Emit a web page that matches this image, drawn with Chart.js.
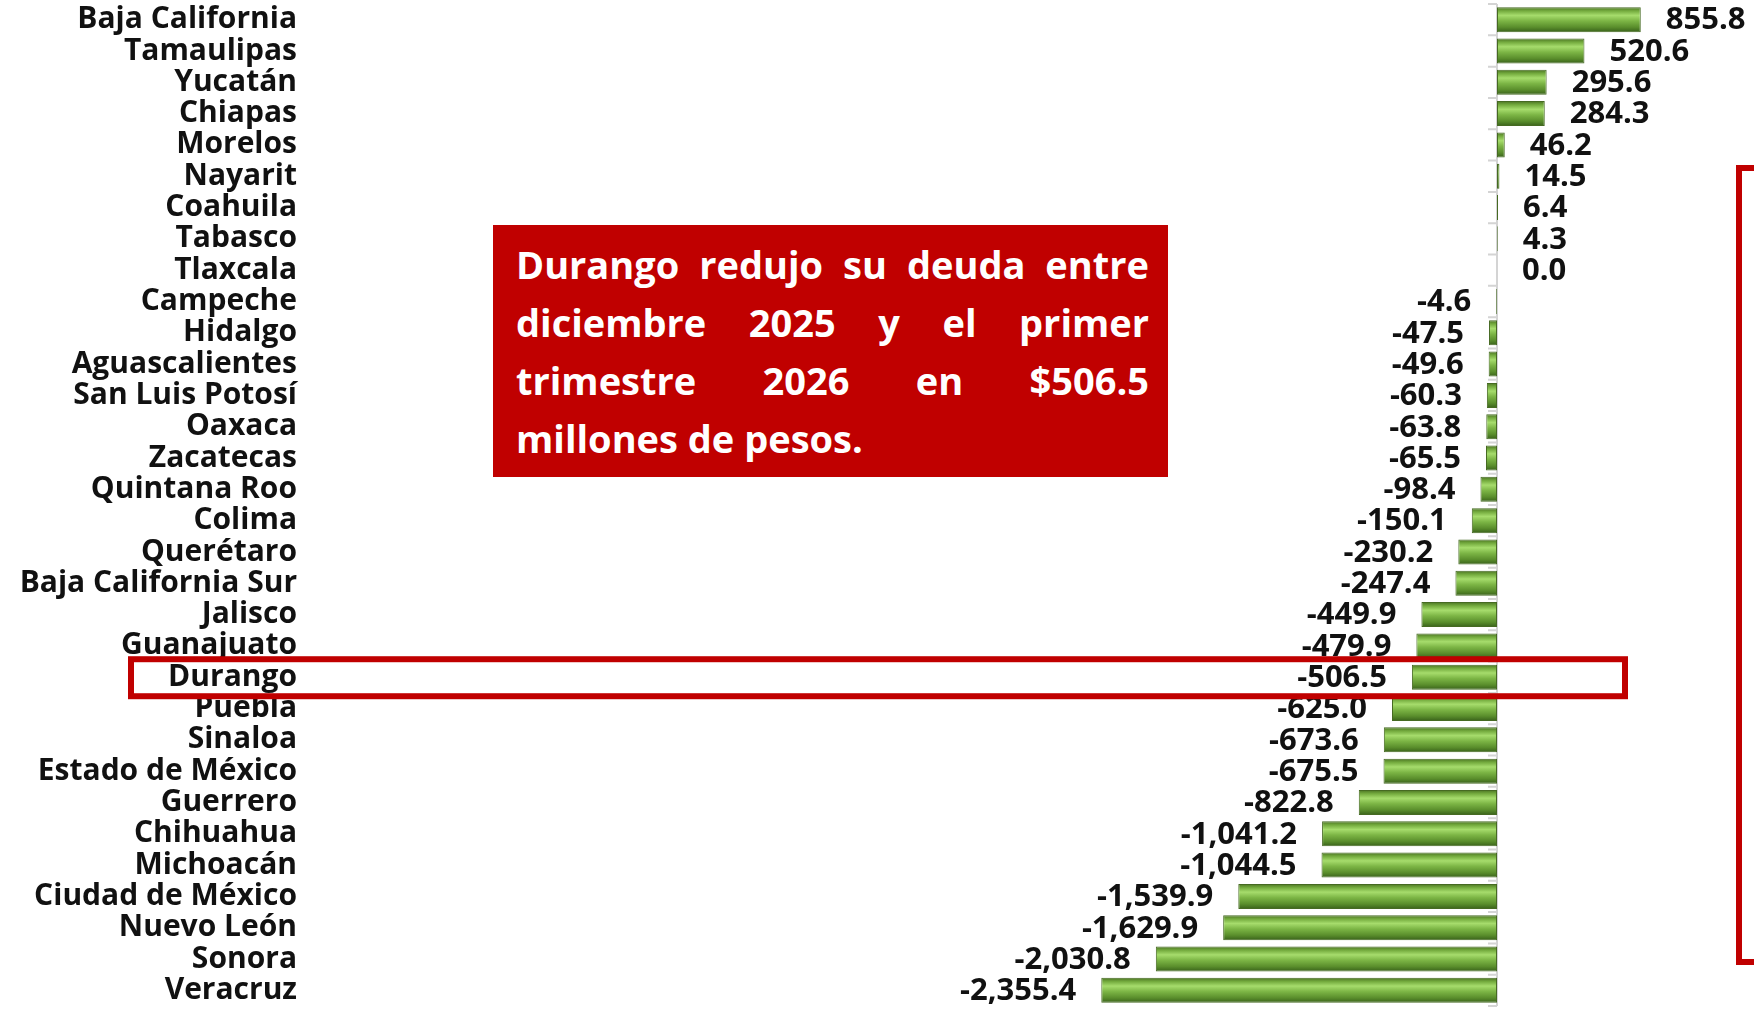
<!DOCTYPE html>
<html>
<head>
<meta charset="utf-8">
<script src="https://cdn.jsdelivr.net/npm/chart.js@4.4.1/dist/chart.umd.min.js"></script>
<style>
html, body { margin: 0; padding: 0; background: #fff; }
#wrap { position: relative; width: 1754px; height: 1010px; overflow: hidden; }
#note {
    position: absolute; left: 493px; top: 225px; width: 675px; height: 252px;
    box-sizing: border-box; background: #c00000; color: #fff;
    font: 700 38px 'Open Sans'; line-height: 58px; padding: 10px 19px 0 23px;
}
#note div { text-align: justify; text-align-last: justify; white-space: nowrap; }
#note div.last { text-align-last: left; }
#bracket {
    position: absolute; left: 1736px; top: 165px; width: 80px; height: 788px;
    border: 6px solid #c00000;
}
</style>
</head>
<body>
<div id="wrap">
    <canvas id="chart-1" width="1754" height="1010"></canvas>
    <div id="note">
        <div>Durango redujo su deuda entre</div>
        <div>diciembre 2025 y el primer</div>
        <div>trimestre 2026 en $506.5</div>
        <div class="last">millones de pesos.</div>
    </div>
    <div id="bracket"></div>
</div>
<script>
// Variación de la deuda por entidad (millones de pesos)
var states = ['Baja California', 'Tamaulipas', 'Yucatán', 'Chiapas', 'Morelos', 'Nayarit',
    'Coahuila', 'Tabasco', 'Tlaxcala', 'Campeche', 'Hidalgo', 'Aguascalientes',
    'San Luis Potosí', 'Oaxaca', 'Zacatecas', 'Quintana Roo', 'Colima', 'Querétaro',
    'Baja California Sur', 'Jalisco', 'Guanajuato', 'Durango', 'Puebla', 'Sinaloa',
    'Estado de México', 'Guerrero', 'Chihuahua', 'Michoacán', 'Ciudad de México',
    'Nuevo León', 'Sonora', 'Veracruz'];
var values = [855.8, 520.6, 295.6, 284.3, 46.2, 14.5, 6.4, 4.3, 0.0, -4.6, -47.5, -49.6,
    -60.3, -63.8, -65.5, -98.4, -150.1, -230.2, -247.4, -449.9, -479.9, -506.5, -625.0,
    -673.6, -675.5, -822.8, -1041.2, -1044.5, -1539.9, -1629.9, -2030.8, -2355.4];
var highlight = 'Durango';

var BAR_PCT = 0.8;

function fmt(v) {
    return v.toLocaleString('en-US', { minimumFractionDigits: 1, maximumFractionDigits: 1 });
}

// degradado verde de cada barra, calculado desde la escala
function barFill(c) {
    var chart = c.chart;
    var ys = chart.scales.y;
    if (!ys || !chart.chartArea) return '#76b041';
    var y = ys.getPixelForValue(c.dataIndex);
    var h = (chart.chartArea.bottom - chart.chartArea.top) / states.length * BAR_PCT;
    var g = chart.ctx.createLinearGradient(0, y - h / 2, 0, y + h / 2);
    g.addColorStop(0, '#4a7222');
    g.addColorStop(0.15, '#74ab3e');
    g.addColorStop(0.33, '#a6dc6c');
    g.addColorStop(0.55, '#7cb545');
    g.addColorStop(0.8, '#5a8e2c');
    g.addColorStop(1, '#38601a');
    return g;
}

var axisPlugin = {
    id: 'zeroAxis',
    beforeDatasetsDraw: function(chart) {
        var ctx = chart.ctx, area = chart.chartArea;
        var x0 = chart.scales.x.getPixelForValue(0);
        var band = (area.bottom - area.top) / states.length;
        ctx.save();
        ctx.strokeStyle = '#d4d4d4';
        ctx.lineWidth = 2;
        ctx.beginPath();
        ctx.moveTo(x0, area.top);
        ctx.lineTo(x0, area.bottom);
        for (let i = 0; i <= states.length; i++) {
            ctx.moveTo(x0 - 9, area.top + i * band);
            ctx.lineTo(x0, area.top + i * band);
        }
        ctx.stroke();
        ctx.restore();
    }
};

var labelPlugin = {
    id: 'valueLabels',
    afterDatasetsDraw: function(chart) {
        var ctx = chart.ctx;
        var meta = chart.getDatasetMeta(0);
        ctx.save();
        ctx.font = 'bold 31px "Open Sans"';
        ctx.fillStyle = '#111';
        ctx.textBaseline = 'middle';
        meta.data.forEach(function(bar, i) {
            var v = values[i];
            if (v >= 0) {
                ctx.textAlign = 'left';
                ctx.fillText(fmt(v), bar.x + 25, bar.y + 1);
            } else {
                ctx.textAlign = 'right';
                ctx.fillText(fmt(v), bar.x - 25, bar.y + 1);
            }
        });
        // recuadro rojo sobre la entidad destacada
        var yh = chart.scales.y.getPixelForValue(states.indexOf(highlight));
        ctx.strokeStyle = '#c00000';
        ctx.lineWidth = 6;
        ctx.strokeRect(131, yh - 18, 1494, 37);
        ctx.restore();
    }
};

function draw() {
    const ctx = document.getElementById('chart-1').getContext('2d');
    const myChart = new Chart(ctx, {
        type: 'bar',
        data: {
            labels: states,
            datasets: [{
                data: values,
                backgroundColor: barFill,
                borderColor: '#466a22',
                borderWidth: 1,
                borderSkipped: false,
                barPercentage: BAR_PCT,
                categoryPercentage: 1,
            }],
        },
        options: {
            indexAxis: 'y',
            responsive: false,
            animation: false,
            devicePixelRatio: 1,
            layout: { padding: { top: 4, bottom: 4, left: 0, right: 5 } },
            plugins: {
                legend: { display: false },
                tooltip: { enabled: false },
            },
            scales: {
                x: { display: false, min: -7000, max: 1500 },
                y: {
                    grid: { display: false },
                    border: { display: false },
                    ticks: {
                        color: '#111',
                        autoSkip: false,
                        padding: 16,
                        font: { family: 'Open Sans', weight: 'bold', size: 30 },
                    },
                    afterFit: function(s) {
                        s.width = 321;
                        s.paddingTop = 0;
                        s.paddingBottom = 0;
                    },
                },
            },
        },
        plugins: [axisPlugin, labelPlugin],
    });
}

document.fonts.load('bold 30px "Open Sans"').then(draw, draw);
</script>
</body>
</html>
